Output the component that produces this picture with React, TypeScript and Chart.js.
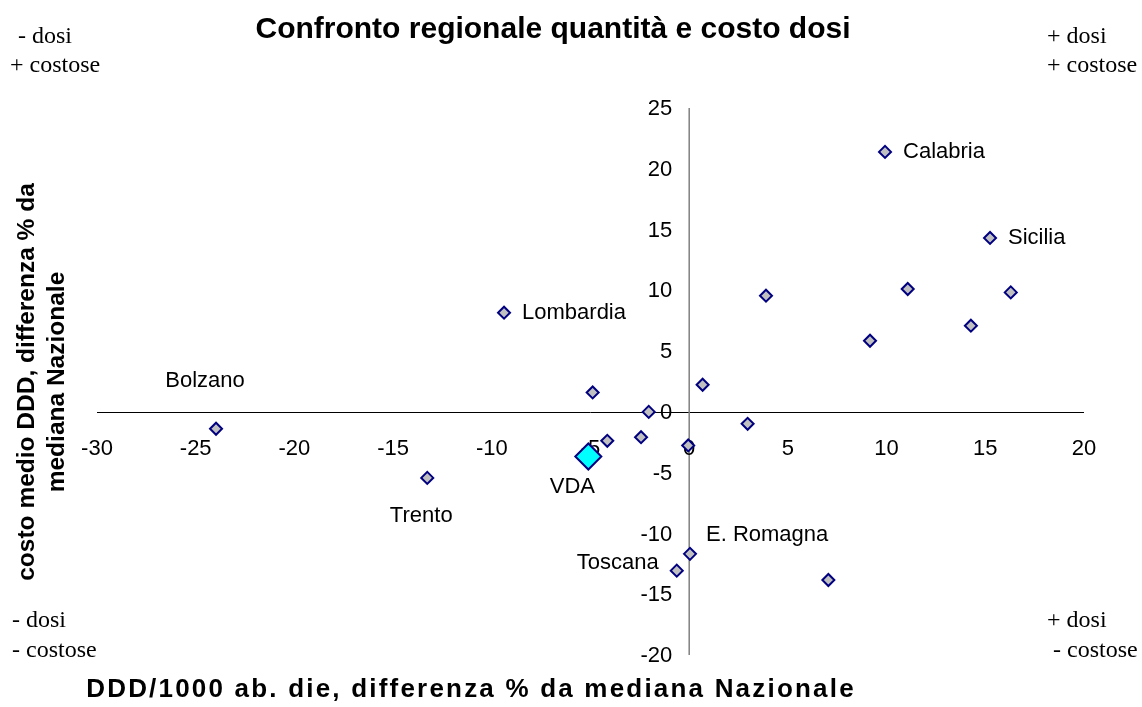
import React, { useEffect, useRef } from "react";
import { Chart, registerables } from "chart.js";

Chart.register(...registerables);

// ---- Data ----
const regionNames = [
  "Calabria", "Sicilia", "", "", "", "", "", "Lombardia", "", "", "",
  "Bolzano", "", "", "", "", "Trento", "E. Romagna", "Toscana", "",
];
// DDD/1000 ab. die, differenza % da mediana Nazionale
const dosesDiff = [
  9.92, 15.24, 11.07, 16.29, 14.27, 9.16, 3.89, -9.38, 0.68, -4.89, -2.05,
  -23.97, 2.96, -4.15, -2.44, -0.05, -13.27, 0.04, -0.63, 7.05,
];
// costo medio DDD, differenza % da mediana Nazionale
const costDiff = [
  21.39, 14.31, 10.11, 9.83, 7.09, 5.85, 9.56, 8.16, 2.23, 1.6, 0.0,
  -1.39, -0.98, -2.38, -2.08, -2.76, -5.43, -11.68, -13.06, -13.83,
];
const highlightName = ["VDA"];
const highlightDoses = [-5.11];
const highlightCost = [-3.67];

const xTicks = [-30, -25, -20, -15, -10, -5, 0, 5, 10, 15, 20];
const yTicks = [-20, -15, -10, -5, 0, 5, 10, 15, 20, 25];

const titleText = "Confronto regionale quantità e costo dosi";
const xTitleText = "DDD/1000 ab. die, differenza % da mediana Nazionale";
const yTitleLines = ["costo medio DDD, differenza % da", "mediana Nazionale"];

// ---- Styles / placements (not data) ----
const SANS = '"Liberation Sans", Arial, Helvetica, sans-serif';
const SERIF = '"Liberation Serif", "Times New Roman", serif';

const labelPlacement: Record<string, { dx: number; dy: number; align: CanvasTextAlign }> = {
  Calabria: { dx: 18, dy: 0, align: "left" },
  Sicilia: { dx: 18, dy: 0, align: "left" },
  Lombardia: { dx: 18, dy: 0, align: "left" },
  Bolzano: { dx: -11, dy: -48, align: "center" },
  Trento: { dx: -6, dy: 38, align: "center" },
  VDA: { dx: -16, dy: 30, align: "center" },
  Toscana: { dx: -18, dy: -8, align: "right" },
  "E. Romagna": { dx: 16, dy: -19, align: "left" },
};

const cornerTexts: { text: string; x: number; y: number }[] = [
  { text: "- dosi", x: 18, y: 43 },
  { text: "+ costose", x: 10, y: 72 },
  { text: "+ dosi", x: 1047, y: 43 },
  { text: "+ costose", x: 1047, y: 72 },
  { text: "- dosi", x: 12, y: 627 },
  { text: "- costose", x: 12, y: 657 },
  { text: "+ dosi", x: 1047, y: 627 },
  { text: "- costose", x: 1053, y: 657 },
];

const overlayPlugin = {
  id: "overlay",
  beforeDatasetsDraw(chart: any) {
    const { ctx } = chart;
    const xs = chart.scales.x;
    const ys = chart.scales.y;
    const x0 = xs.getPixelForValue(0);
    const y0 = ys.getPixelForValue(0);
    ctx.save();
    // x axis (black)
    ctx.strokeStyle = "#000000";
    ctx.lineWidth = 1;
    ctx.beginPath();
    ctx.moveTo(xs.left, Math.round(y0) + 0.5);
    ctx.lineTo(xs.right, Math.round(y0) + 0.5);
    ctx.stroke();
    // y axis (gray)
    ctx.strokeStyle = "#808080";
    ctx.lineWidth = 1.5;
    ctx.beginPath();
    ctx.moveTo(x0, ys.top);
    ctx.lineTo(x0, ys.bottom);
    ctx.stroke();
    // tick labels
    ctx.fillStyle = "#000000";
    ctx.font = `22px ${SANS}`;
    ctx.textBaseline = "middle";
    ctx.textAlign = "center";
    xTicks.forEach((v) => ctx.fillText(String(v), xs.getPixelForValue(v), y0 + 37));
    ctx.textAlign = "right";
    yTicks.forEach((v) => ctx.fillText(String(v), x0 - 17, ys.getPixelForValue(v) + 1));
    ctx.restore();
  },
  afterDatasetsDraw(chart: any) {
    const { ctx } = chart;
    ctx.save();
    ctx.fillStyle = "#000000";
    // point labels
    ctx.font = `22px ${SANS}`;
    ctx.textBaseline = "middle";
    chart.data.datasets.forEach((ds: any, di: number) => {
      const meta = chart.getDatasetMeta(di);
      ds.labels.forEach((name: string, i: number) => {
        if (!name) return;
        const p = labelPlacement[name];
        const el = meta.data[i];
        if (!p || !el) return;
        ctx.textAlign = p.align;
        ctx.fillText(name, el.x + p.dx, el.y + p.dy);
      });
    });
    // title
    ctx.font = `bold 30px ${SANS}`;
    ctx.textAlign = "center";
    ctx.fillText(titleText, 553, 30);
    // x title
    ctx.save();
    ctx.font = `bold 26px ${SANS}`;
    (ctx as any).letterSpacing = "2.2px";
    ctx.fillText(xTitleText, 471, 690);
    ctx.restore();
    // y title
    ctx.save();
    ctx.font = `bold 24.5px ${SANS}`;
    ctx.textAlign = "center";
    ctx.textBaseline = "middle";
    ctx.translate(27, 382);
    ctx.rotate(-Math.PI / 2);
    ctx.fillText(yTitleLines[0], 0, 0);
    ctx.fillText(yTitleLines[1], 0, 30);
    ctx.restore();
    // corner texts
    ctx.font = `24px ${SERIF}`;
    ctx.textAlign = "left";
    ctx.textBaseline = "alphabetic";
    cornerTexts.forEach((c) => ctx.fillText(c.text, c.x, c.y));
    ctx.restore();
  },
};

export default function App() {
  const canvasRef = useRef<HTMLCanvasElement | null>(null);

  useEffect(() => {
    const canvas = canvasRef.current;
    if (!canvas) return;
    const chart = new Chart(canvas, {
      type: "scatter",
      data: {
        datasets: [
          {
            label: "Regioni",
            data: dosesDiff.map((x, i) => ({ x, y: costDiff[i] })),
            labels: regionNames,
            pointStyle: "rectRot",
            pointRadius: 6,
            pointBackgroundColor: "#c0c0c0",
            pointBorderColor: "#000080",
            pointBorderWidth: 2,
          } as any,
          {
            label: "VDA",
            data: highlightDoses.map((x, i) => ({ x, y: highlightCost[i] })),
            labels: highlightName,
            pointStyle: "rectRot",
            pointRadius: 13,
            pointBackgroundColor: "#00ffff",
            pointBorderColor: "#000080",
            pointBorderWidth: 2,
          } as any,
        ],
      },
      options: {
        responsive: false,
        animation: false,
        devicePixelRatio: 1,
        layout: { padding: { left: 97, right: 58, top: 108, bottom: 52 } },
        plugins: {
          legend: { display: false },
          tooltip: { enabled: false },
          title: { display: false },
        },
        scales: {
          x: { type: "linear", min: -30, max: 20, display: false },
          y: { type: "linear", min: -20, max: 25, display: false },
        },
      },
      plugins: [overlayPlugin],
    });
    return () => chart.destroy();
  }, []);

  return (
    <div style={{ position: "absolute", left: 0, top: 0, width: 1142, height: 707, background: "#ffffff" }}>
      <canvas ref={canvasRef} width={1142} height={707} style={{ display: "block" }} />
    </div>
  );
}
